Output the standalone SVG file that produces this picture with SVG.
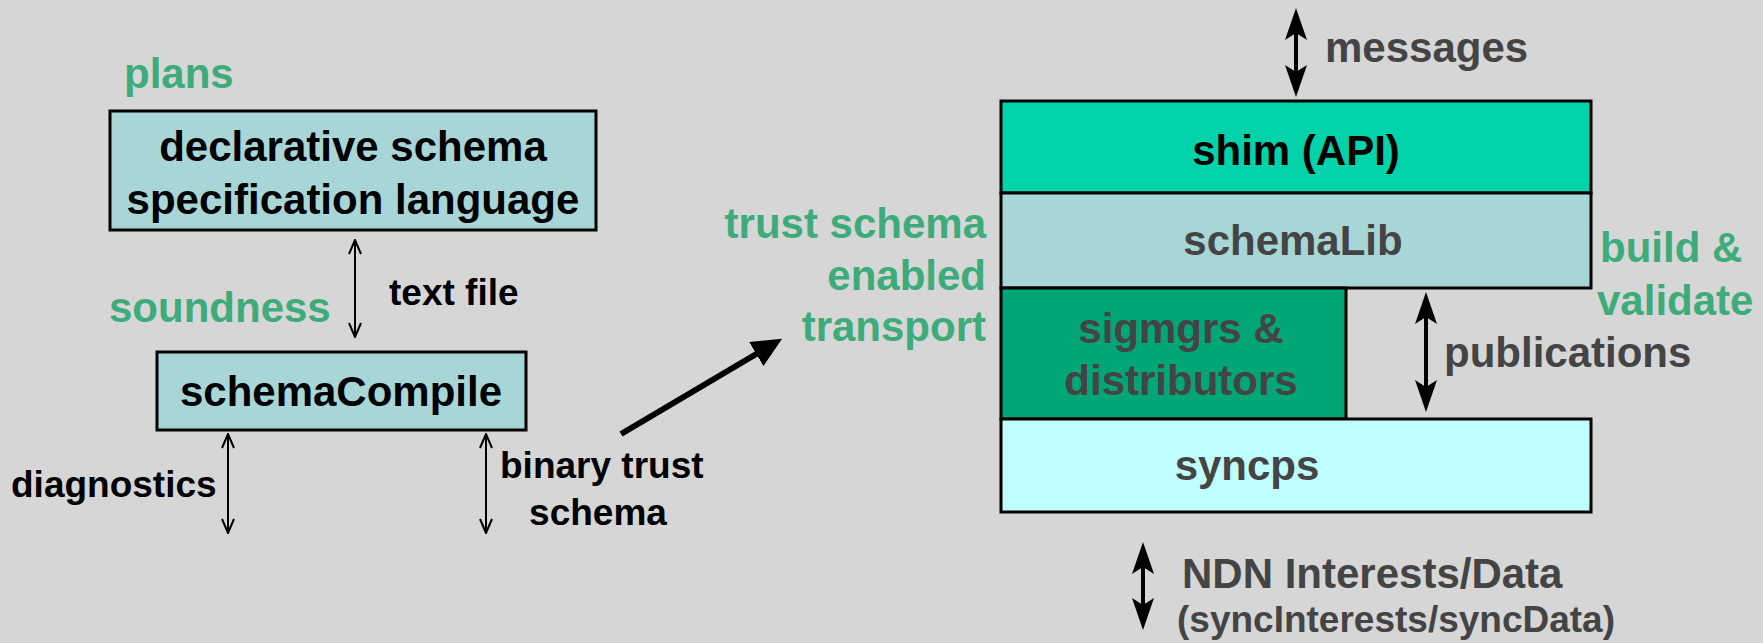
<svg xmlns="http://www.w3.org/2000/svg" width="1763" height="643" viewBox="0 0 1763 643">
  <style>
    text { font-family: "Liberation Sans", Arial, Helvetica, sans-serif; font-weight: bold; }
    .lg { font-size: 42px; }
    .sm { font-size: 37px; }
    .green { fill: #3dab7a; }
    .dark { fill: #000; }
    .gray { fill: #444; }
    .mid { text-anchor: middle; }
    .end { text-anchor: end; }
    .box { stroke: #000; stroke-width: 3; }
    .thin { stroke: #000; stroke-width: 2; fill: none; }
    .bold { stroke: #000; stroke-width: 4; fill: none; }
  </style>
  <defs>
    <marker id="vee" viewBox="0 0 16 14" refX="15" refY="7" markerWidth="16" markerHeight="14" markerUnits="userSpaceOnUse" orient="auto-start-reverse">
      <path d="M1,1 L15,7 L1,13" fill="none" stroke="#000" stroke-width="2"/>
    </marker>
    <marker id="barb" viewBox="0 0 32 22" refX="7" refY="11" markerWidth="32" markerHeight="22" markerUnits="userSpaceOnUse" orient="auto-start-reverse">
      <path d="M0,0 L32,11 L0,22 L7,11 Z" fill="#000"/>
    </marker>
    <marker id="tri" viewBox="0 0 30 28" refX="2" refY="14" markerWidth="30" markerHeight="28" markerUnits="userSpaceOnUse" orient="auto">
      <path d="M0,0 L30,14 L0,28 Z" fill="#000"/>
    </marker>
  </defs>

  <rect width="1763" height="643" fill="#d6d6d6"/>

  <!-- compiler side -->
  <g id="plans-label"><text class="lg green" x="124" y="88">plans</text></g>
  <g id="spec-language">
    <rect class="box" x="110" y="111" width="486" height="119" fill="#a8d6d7"/>
    <text class="lg dark mid" x="353" y="161">declarative schema</text>
    <text class="lg dark mid" x="353" y="214">specification language</text>
  </g>
  <g id="soundness-label"><text class="lg green" x="109" y="322">soundness</text></g>
  <g id="schema-compile">
    <rect class="box" x="157" y="352" width="369" height="78" fill="#a8d6d7"/>
    <text class="lg dark mid" x="341" y="406">schemaCompile</text>
  </g>

  <!-- transport stack -->
  <g id="transport-label">
    <text class="lg green end" x="986" y="238">trust schema</text>
    <text class="lg green end" x="986" y="290">enabled</text>
    <text class="lg green end" x="986" y="341">transport</text>
  </g>
  <g id="shim">
    <rect class="box" x="1001" y="101" width="590" height="92" fill="#00d2a9"/>
    <text class="lg dark mid" x="1296" y="165">shim (API)</text>
  </g>
  <g id="schemalib">
    <rect class="box" x="1001" y="193" width="590" height="95" fill="#a8d6d7"/>
    <text class="lg gray mid" x="1293" y="255">schemaLib</text>
  </g>
  <g id="sigmgrs">
    <rect class="box" x="1001" y="288" width="345" height="131" fill="#00a676"/>
    <text class="lg gray mid" x="1181" y="343">sigmgrs &amp;</text>
    <text class="lg gray mid" x="1181" y="395">distributors</text>
  </g>
  <g id="syncps">
    <rect class="box" x="1001" y="419" width="590" height="93" fill="#bfffff"/>
    <text class="lg gray mid" x="1247" y="480">syncps</text>
  </g>
  <g id="build-label">
    <text class="lg green" x="1600" y="262">build &amp;</text>
    <text class="lg green" x="1597" y="315">validate</text>
  </g>

  <!-- connectors -->
  <g id="connectors">
    <line class="thin" x1="355" y1="240" x2="355" y2="337" marker-start="url(#vee)" marker-end="url(#vee)"/>
    <line class="thin" x1="228" y1="434" x2="228" y2="533" marker-start="url(#vee)" marker-end="url(#vee)"/>
    <line class="thin" x1="486" y1="434" x2="486" y2="533" marker-start="url(#vee)" marker-end="url(#vee)"/>
    <line stroke="#000" stroke-width="6" x1="621" y1="434" x2="758" y2="353" marker-end="url(#tri)"/>
    <line class="bold" x1="1296" y1="33" x2="1296" y2="72" marker-start="url(#barb)" marker-end="url(#barb)"/>
    <line class="bold" x1="1426" y1="317" x2="1426" y2="387" marker-start="url(#barb)" marker-end="url(#barb)"/>
    <line class="bold" x1="1143" y1="567" x2="1143" y2="605" marker-start="url(#barb)" marker-end="url(#barb)"/>
  </g>

  <!-- connector labels -->
  <g id="labels">
    <text class="sm dark" x="389" y="305">text file</text>
    <text class="sm dark" x="11" y="497">diagnostics</text>
    <text class="sm dark" x="500" y="478">binary trust</text>
    <text class="sm dark mid" x="598" y="525">schema</text>
    <text class="lg gray" x="1325" y="62">messages</text>
    <text class="lg gray" x="1444" y="367">publications</text>
    <text class="lg gray" x="1182" y="588" font-size="44">NDN Interests/Data</text>
    <text class="sm gray" x="1177" y="632">(syncInterests/syncData)</text>
  </g>
</svg>
